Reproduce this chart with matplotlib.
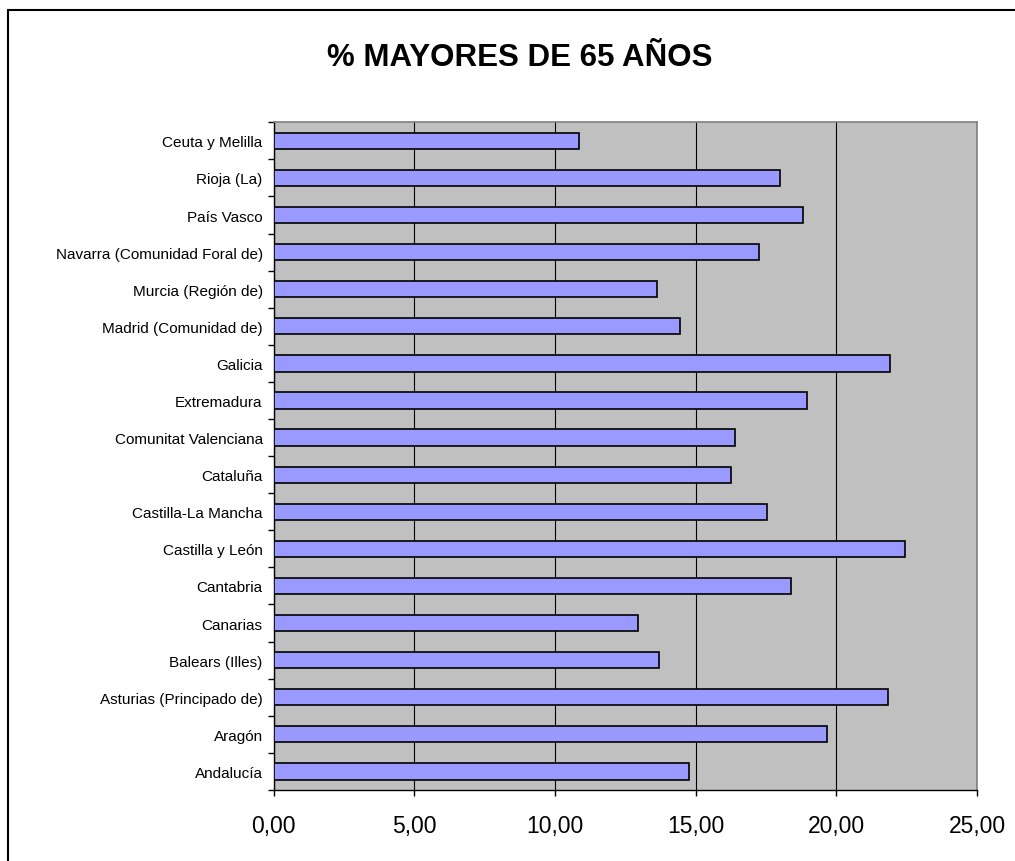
import matplotlib
matplotlib.use("Agg")
import matplotlib.pyplot as plt
from matplotlib.patches import Rectangle
from matplotlib.ticker import FuncFormatter, FixedLocator

# bottom to top, as drawn
regiones = [
    "Andalucía",
    "Aragón",
    "Asturias (Principado de)",
    "Balears (Illes)",
    "Canarias",
    "Cantabria",
    "Castilla y León",
    "Castilla-La Mancha",
    "Cataluña",
    "Comunitat Valenciana",
    "Extremadura",
    "Galicia",
    "Madrid (Comunidad de)",
    "Murcia (Región de)",
    "Navarra (Comunidad Foral de)",
    "País Vasco",
    "Rioja (La)",
    "Ceuta y Melilla",
]
pct_mayores_65 = [
    14.75, 19.65, 21.83, 13.70, 12.95, 18.37, 22.44, 17.54, 16.27,
    16.40, 18.96, 21.92, 14.45, 13.63, 17.25, 18.83, 17.99, 10.84,
]
x_ticks = [0, 5, 10, 15, 20, 25]

plt.rcParams["font.family"] = ["Liberation Sans", "DejaVu Sans"]


def coma(x, pos):
    return f"{x:.2f}".replace(".", ",")


fig = plt.figure(figsize=(10.15, 8.62), dpi=100)
# chart border: only top and left edges fall inside the picture
fig.patches.append(
    Rectangle((8 / 1015, -0.1), 1.2, 1.1 - 11 / 862,
              transform=fig.transFigure, fill=False, edgecolor="black",
              linewidth=1.5)
)

ax = fig.add_axes([0.2697, 0.0824, 0.6929, 0.7746])
ax.set_facecolor("#C0C0C0")

y = list(range(len(regiones)))
ax.barh(y, pct_mayores_65, height=0.44, color="#9999FF",
        edgecolor="black", linewidth=1.2, zorder=3)

ax.set_xlim(0, 25)
ax.set_ylim(-0.5, len(regiones) - 0.5)
ax.set_xticks(x_ticks)
ax.xaxis.set_major_formatter(FuncFormatter(coma))
ax.grid(axis="x", color="black", linewidth=0.8, zorder=1)
ax.set_axisbelow(True)

ax.set_yticks(y)
ax.set_yticklabels(regiones)
ax.yaxis.set_minor_locator(FixedLocator([i - 0.5 for i in range(len(regiones) + 1)]))
ax.tick_params(axis="y", which="major", length=0, pad=8, labelsize=11)
ax.tick_params(axis="y", which="minor", length=4, width=1, color="black")
ax.tick_params(axis="x", which="major", length=4.5, width=1, pad=13,
               labelsize=16.5, color="black")

for side in ["top", "right"]:
    ax.spines[side].set_color("#808080")
    ax.spines[side].set_linewidth(1.2)
for side in ["left", "bottom"]:
    ax.spines[side].set_color("black")
    ax.spines[side].set_linewidth(1.0)

fig.text(520 / 1015, 1 - 65.7 / 862, "% MAYORES DE 65 AÑOS", ha="center",
         va="baseline", fontsize=22.5, fontweight="bold")

fig.savefig("out.png", dpi=100)
